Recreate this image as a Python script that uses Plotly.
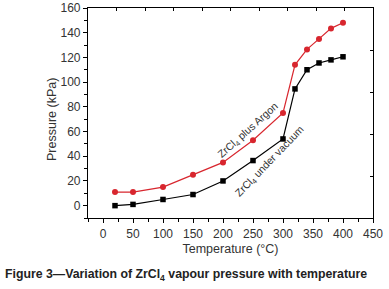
import numpy as np
import plotly.graph_objects as go

temperature = [20, 50, 100, 150, 200, 250, 300, 320, 340, 360, 380, 400]
p_argon = [11, 11, 15, 25, 35, 53, 75, 114, 126.5, 135, 143.5, 148]
p_vacuum = [0, 1, 5, 9, 20, 36.5, 54, 94.5, 110, 115.5, 118, 120.5]

x_range = [-25, 450]
y_range = [-10, 160]
x_ticks = list(range(0, 451, 50))
y_ticks = list(range(0, 161, 20))

RED = "#d8262e"
FONT = "Liberation Sans, Arial, sans-serif"

fig = go.Figure()
fig.add_trace(go.Scatter(x=temperature, y=p_argon, mode="lines+markers",
                         line=dict(color=RED, width=1.2),
                         marker=dict(symbol="circle", size=6, color=RED),
                         showlegend=False))
fig.add_trace(go.Scatter(x=temperature, y=p_vacuum, mode="lines+markers",
                         line=dict(color="black", width=1.2),
                         marker=dict(symbol="square", size=5.5, color="black"),
                         showlegend=False))
fig.add_trace(go.Scatter(x=[None], y=[None], xaxis="x2", yaxis="y2", showlegend=False,
                         hoverinfo="skip"))

axis_common = dict(showgrid=False, zeroline=False, showline=True, linecolor="black",
                   linewidth=1.2, tickcolor="black", automargin=False,
                   tickfont=dict(family=FONT, size=12, color="#333"))

fig.update_layout(
    width=389, height=289,
    margin=dict(l=88, r=16, t=8, b=71),
    paper_bgcolor="white", plot_bgcolor="white",
    font=dict(family=FONT, color="#333"),
    xaxis=dict(range=x_range, tickvals=x_ticks, ticks="outside", ticklen=4, tickwidth=1,
               minor=dict(ticks="outside", dtick=25, tick0=0, ticklen=3, tickcolor="black"),
               title=dict(text="Temperature (°C)", font=dict(family=FONT, size=12.5, color="#333"),
                          standoff=4),
               **axis_common),
    yaxis=dict(range=y_range, tickvals=y_ticks, ticks="outside", ticklen=4, tickwidth=1,
               minor=dict(ticks="outside", dtick=10, tick0=0, ticklen=3, tickcolor="black"),
               **axis_common),
    xaxis2=dict(range=x_range, overlaying="x", side="top", anchor="y", automargin=False,
                tickvals=list(np.linspace(x_range[0], x_range[1], 11)), ticks="inside",
                ticklen=3, showticklabels=False, showgrid=False, zeroline=False,
                showline=True, linecolor="black", linewidth=1.2, tickcolor="black"),
    yaxis2=dict(range=y_range, overlaying="y", side="right", anchor="x", automargin=False,
                tickvals=list(np.linspace(y_range[0], y_range[1], 6)), ticks="inside",
                ticklen=3, showticklabels=False, showgrid=False, zeroline=False,
                showline=True, linecolor="black", linewidth=1.2, tickcolor="black"),
)

fig.add_annotation(x=(52 - 88) / 285, y=(218 - 120) / 210, xref="paper", yref="paper",
                   xanchor="center", yanchor="middle",
                   text="Pressure (kPa)", textangle=-90, showarrow=False,
                   font=dict(family=FONT, size=12.5, color="#333"))
fig.add_annotation(x=243, y=61, xref="x", yref="y", text="ZrCl<sub>4</sub> plus Argon",
                   showarrow=False, textangle=-42, font=dict(family=FONT, size=10.5, color="#333"))
fig.add_annotation(x=279, y=36, xref="x", yref="y", text="ZrCl<sub>4</sub> under vacuum",
                   showarrow=False, textangle=-46, font=dict(family=FONT, size=10.5, color="#333"))
fig.add_annotation(x=(3 - 88) / 285, y=(218 - 275) / 210, xref="paper", yref="paper",
                   xanchor="left", yanchor="middle",
                   text="<b>Figure 3—Variation of ZrCl<sub>4</sub> vapour pressure with temperature</b>",
                   showarrow=False, font=dict(family=FONT, size=12.3, color="#222"))

fig.write_html("out.html", config={"displayModeBar": False},
               post_script="document.body.style.margin='0';document.body.style.overflow='hidden';")
